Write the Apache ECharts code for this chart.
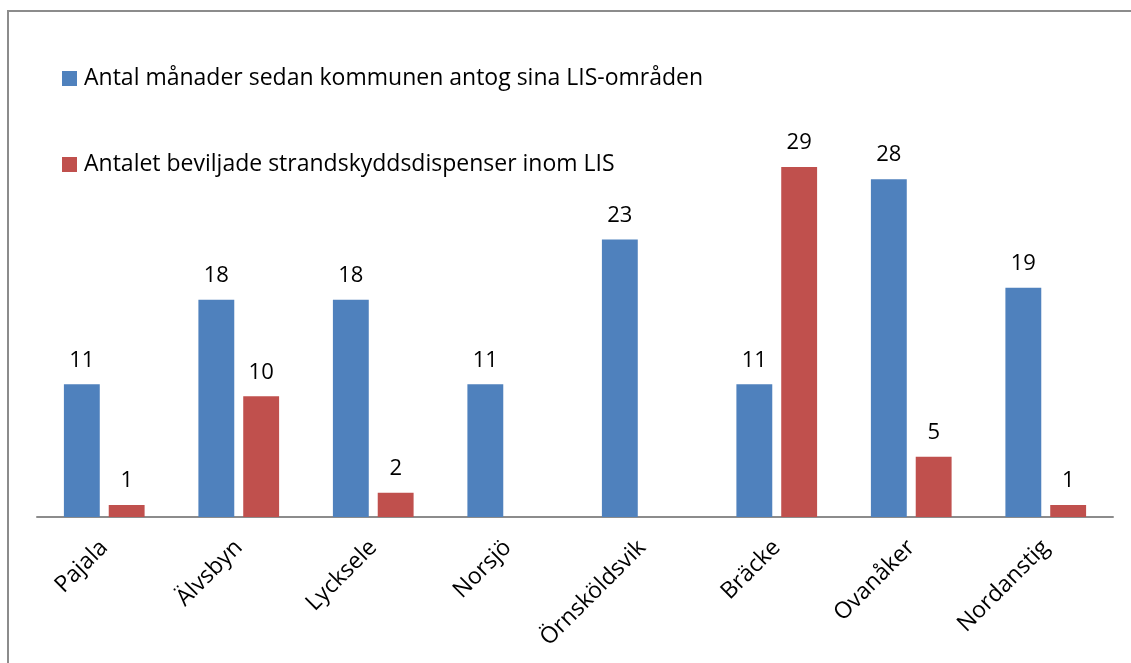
<!DOCTYPE html>
<html>
<head>
<meta charset="utf-8">
<script src="https://cdn.jsdelivr.net/npm/echarts@6/dist/echarts.min.js"></script>
<style>
html,body{margin:0;padding:0;background:#fff;overflow:hidden;}
#frame{position:absolute;left:7px;top:10px;width:1200px;height:700px;border:2px solid #8c8c8c;box-sizing:border-box;}
#chart{position:absolute;left:0;top:0;width:1131px;height:663px;}
</style>
</head>
<body>
<div id="frame"></div>
<div id="chart"></div>
<script>
const categories = ['Pajala','Älvsbyn','Lycksele','Norsjö','Örnsköldsvik','Bräcke','Ovanåker','Nordanstig'];
const seriesNames = ['Antal månader sedan kommunen antog sina LIS-områden','Antalet beviljade strandskyddsdispenser inom LIS'];
const monthsSince = [11,18,18,11,23,11,28,19];
const dispensations = [1,10,2,null,null,29,5,1];

const FONT = '"Open Sans", sans-serif';
const chart = echarts.init(document.getElementById('chart'), null, {renderer:'canvas'});
chart.setOption({
  animation:false,
  backgroundColor:'transparent',
  legend:{
    orient:'vertical', left:57, top:62, itemGap:63,
    itemWidth:15, itemHeight:15, icon:'rect',
    textStyle:{fontFamily:FONT, fontSize:23, color:'#000', padding:[0,0,0,2]},
    data:seriesNames
  },
  grid:{left:37, right:18, top:155, bottom:146, containLabel:false},
  xAxis:{
    type:'category', data:categories,
    axisLine:{lineStyle:{color:'#8c8c8c', width:2}},
    axisTick:{show:false},
    axisLabel:{rotate:45, margin:27, interval:0, fontFamily:FONT, fontSize:23, color:'#000'}
  },
  yAxis:{type:'value', min:0, max:30, show:false, splitLine:{show:false}},
  series:[
    {name:seriesNames[0], type:'bar', data:monthsSince, barGap:'25%', barCategoryGap:'40%',
     itemStyle:{color:'#4f81bd'},
     label:{show:true, position:'top', distance:13, fontFamily:FONT, fontSize:22, color:'#000'}},
    {name:seriesNames[1], type:'bar', data:dispensations,
     itemStyle:{color:'#c0504d'},
     label:{show:true, position:'top', distance:13, fontFamily:FONT, fontSize:22, color:'#000'}}
  ]
});
</script>
</body>
</html>
